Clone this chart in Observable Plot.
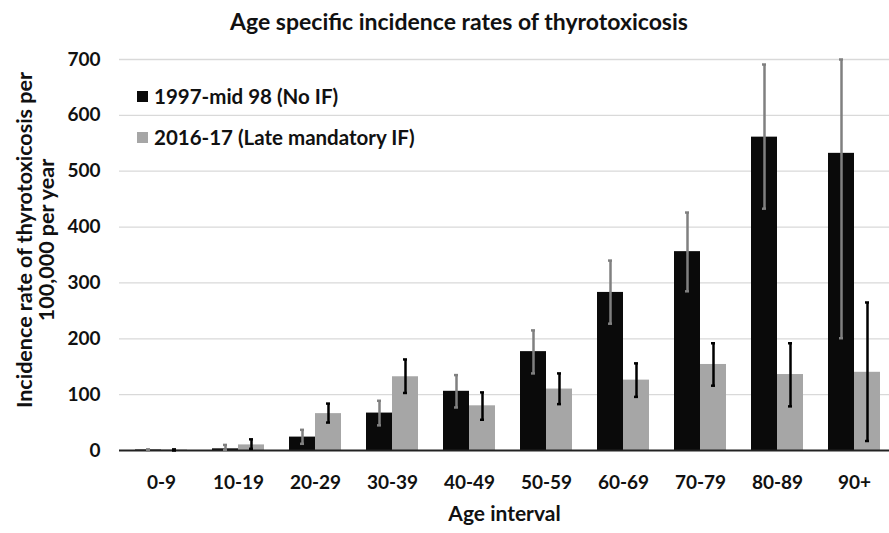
<!DOCTYPE html>
<html><head><meta charset="utf-8">
<script src="https://cdn.jsdelivr.net/npm/d3@7"></script>
<script src="https://cdn.jsdelivr.net/npm/@observablehq/plot@0.6"></script>
<style>
body{margin:0;background:#fff;font-family:Lato,"Open Sans",sans-serif;}
#wrap{position:relative;width:889px;height:533px;}
#title{position:absolute;left:0;width:918px;top:6px;text-align:center;font-weight:bold;font-size:23px;color:#111;line-height:30px;}
.leg{position:absolute;left:137px;font-weight:bold;font-size:20.5px;color:#111;display:flex;align-items:center;line-height:24px;}
.sw{width:11px;height:11px;margin-right:6px;display:inline-block;}
</style></head>
<body><div id="wrap"><div id="title">Age specific incidence rates of thyrotoxicosis</div></div>
<script>
const ages = ["0-9","10-19","20-29","30-39","40-49","50-59","60-69","70-79","80-89","90+"];
const series = ["1997-mid 98 (No IF)", "2016-17 (Late mandatory IF)"];
const rate1997 = [1, 3, 24, 67, 106, 177, 283, 356, 561, 532];
const low1997  = [0, 1, 12, 45, 77, 138, 227, 285, 433, 201];
const high1997 = [2, 10, 37, 89, 135, 215, 340, 426, 691, 700];
const rate2016 = [1, 10, 66, 132, 80, 110, 126, 154, 136, 140];
const low2016  = [0, 3, 50, 103, 55, 83, 96, 116, 79, 17];
const high2016 = [2, 20, 84, 163, 104, 138, 156, 192, 192, 265];
const yTicks = [0, 100, 200, 300, 400, 500, 600, 700];

const d1 = ages.map((a,i)=>({age:a, v:rate1997[i], lo:low1997[i], hi:high1997[i]}));
const d2 = ages.map((a,i)=>({age:a, v:rate2016[i], lo:low2016[i], hi:high2016[i]}));
const colors = ["#0a0a0a", "#a6a6a6"];
const errColors = ["#808080", "#000000"];

const chart = Plot.plot({
  width: 889, height: 533,
  marginTop: 59, marginBottom: 83, marginLeft: 119, marginRight: 0,
  style: {fontFamily: "Lato, 'Open Sans', sans-serif", fontWeight: "bold", fontSize: "19px", color: "#111"},
  x: {domain: ages, range: [119, 896], paddingInner: 0.665, paddingOuter: 0.3325, label: null},
  y: {domain: [0, 700], ticks: yTicks, label: null},
  marks: [
    Plot.gridY(yTicks.filter(t=>t>0), {stroke: "#d9d9d9", strokeOpacity: 1, strokeWidth: 1.3}),
    Plot.axisY({ticks: yTicks, tickSize: 0, tickPadding: 19, fontSize: 19, label: null}),
    Plot.axisX({tickSize: 0, tickPadding: 25, fontSize: 19, label: null}),
    Plot.barY(d1, {x: "age", y: "v", fill: colors[0], dx: -13}),
    Plot.barY(d2, {x: "age", y: "v", fill: colors[1], dx: 13}),
    Plot.ruleY([0], {stroke: "#222", strokeWidth: 2}),
    Plot.ruleX(d1, {x: "age", y1: "lo", y2: "hi", stroke: errColors[0], strokeWidth: 2.5, dx: -13}),
    Plot.tickY(d1, {x: "age", y: "lo", stroke: errColors[0], strokeWidth: 2.5, insetLeft: 11, insetRight: 11, dx: -13}),
    Plot.tickY(d1, {x: "age", y: "hi", stroke: errColors[0], strokeWidth: 2.5, insetLeft: 11, insetRight: 11, dx: -13}),
    Plot.ruleX(d2, {x: "age", y1: "lo", y2: "hi", stroke: errColors[1], strokeWidth: 2.5, dx: 13}),
    Plot.tickY(d2, {x: "age", y: "lo", stroke: errColors[1], strokeWidth: 2.5, insetLeft: 11, insetRight: 11, dx: 13}),
    Plot.tickY(d2, {x: "age", y: "hi", stroke: errColors[1], strokeWidth: 2.5, insetLeft: 11, insetRight: 11, dx: 13}),
    Plot.text(["Age interval"], {frameAnchor: "bottom", dy: 70, fontSize: 21, fontWeight: "bold", fill: "#111"}),
    Plot.text(["Incidence rate of thyrotoxicosis per\n100,000 per year"], {frameAnchor: "left", textAnchor: "middle", lineAnchor: "middle", dx: -84, dy: -15, rotate: -90, fontSize: 21.5, lineHeight: 1.03, fontWeight: "bold", fill: "#111"})
  ]
});
const wrap = document.getElementById("wrap");
wrap.insertBefore(chart, wrap.firstChild);
series.forEach((s,i)=>{
  const d = document.createElement("div");
  d.className = "leg";
  d.style.top = (84 + i*41) + "px";
  d.innerHTML = `<span class="sw" style="background:${colors[i]}"></span>${s}`;
  wrap.appendChild(d);
});
</script></body></html>
